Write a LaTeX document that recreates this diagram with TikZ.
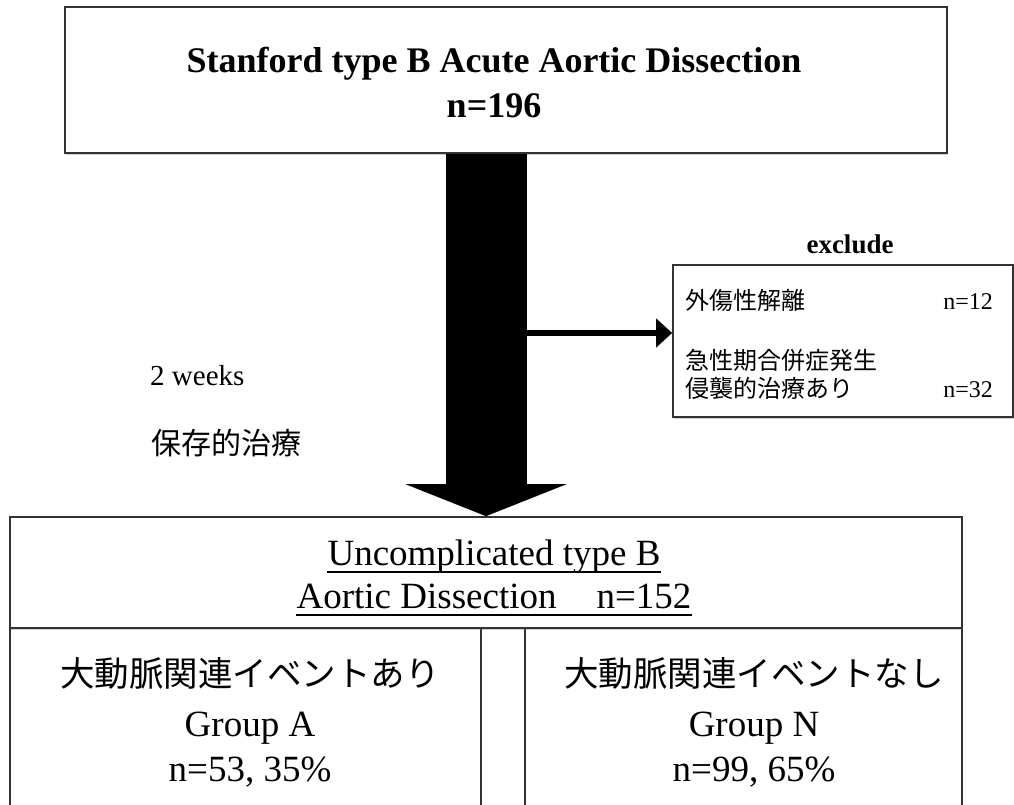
\documentclass[tikz,border=0pt]{standalone}
\usepackage{fontspec}
\setmainfont{Liberation Serif}
\newfontfamily\jpfont{Noto Sans CJK JP}
\usetikzlibrary{arrows.meta,positioning,shadows}

\newcommand{\fsz}[1]{\fontsize{#1}{#1}\selectfont}
\tikzset{
  frame/.style={rectangle, draw=black!80, line width=1.6pt, fill=white,
    drop shadow={shadow xshift=1pt, shadow yshift=-2pt, opacity=0.3, fill=black!60}},
  txt/.style={anchor=base, inner sep=0pt},
  uline/.style={txt, text depth=7pt},
}

\begin{document}
\begin{tikzpicture}[x=1pt, y=-1pt]
    \useasboundingbox (0,0) rectangle (1014,805);
    \clip (0,0) rectangle (1014,805);
    \fill[white] (0,0) rectangle (1014,805);

    % boxes
    \node (source) [frame, minimum width=882pt, minimum height=146pt] at (506,80) {};
    \node (groupA) [frame, minimum width=471pt, minimum height=200pt] at (245.5,728) {};
    \node (groupN) [frame, minimum width=437pt, minimum height=200pt] at (743.5,728) {};
    \node (cohort) [frame, minimum width=952pt, minimum height=111pt] at (486,572.5) {};
    \node (excl) [frame, minimum width=340pt, minimum height=152pt] at (843,341) {};

    % texts
    \node (srcA) [txt, font=\bfseries\fsz{36}] at (494,73) {Stanford type B Acute Aortic Dissection};
    \node (srcB) [txt, font=\bfseries\fsz{36}] at (494,118) {n=196};

    \node (cohA) [uline, font=\fsz{37}] at (494,565) {Uncomplicated type B};
    \node (cohB) [uline, font=\fsz{37}] at (494,608) {Aortic Dissection\hspace{40pt}n=152};
    \draw[line width=2.5pt] (cohA.south west) -- (cohA.south east);
    \draw[line width=2.5pt] (cohB.south west) -- (cohB.south east);

    \node (grpAjp) [txt, font=\jpfont\fsz{34.5}] at (250,686) {大動脈関連イベントあり};
    \node (grpAname) [txt, font=\fsz{37}] at (250,736) {Group A};
    \node (grpAn) [txt, font=\fsz{37}] at (250,781) {n=53, 35\%};
    \node (grpNjp) [txt, font=\jpfont\fsz{34.5}] at (754,686) {大動脈関連イベントなし};
    \node (grpNname) [txt, font=\fsz{37}] at (754,736) {Group N};
    \node (grpNn) [txt, font=\fsz{37}] at (754,781) {n=99, 65\%};

    \node (weeks) [txt, anchor=base west, font=\fsz{29}] at (150,385) {2 weeks};
    \node (conserv) [txt, anchor=base west, font=\jpfont\fsz{30}] at (151,454) {保存的治療};

    \node (exclude) [txt, font=\bfseries\fsz{27}] at (850,253) {exclude};
    \node (trauma) [txt, anchor=base west, font=\jpfont\fsz{24}] at (685,309) {外傷性解離};
    \node (traumaN) [txt, anchor=base east, font=\fsz{24}] at (993,309) {n=12};
    \node (complA) [txt, anchor=base west, font=\jpfont\fsz{24}] at (685,369) {急性期合併症発生};
    \node (complB) [txt, anchor=base west, font=\jpfont\fsz{24}] at (685,397) {侵襲的治療あり};
    \node (complN) [txt, anchor=base east, font=\fsz{24}] at (993,397) {n=32};

    % arrows
    \draw [line width=81pt, -{Triangle[length=32pt, width=160pt]}] (source.south -| cohort.north) -- (cohort.north);
    \coordinate (branch) at (527,333);
    \draw [line width=6pt, -{Triangle[length=16pt, width=28pt]}] (branch) -- (branch -| excl.west);
\end{tikzpicture}
\end{document}
